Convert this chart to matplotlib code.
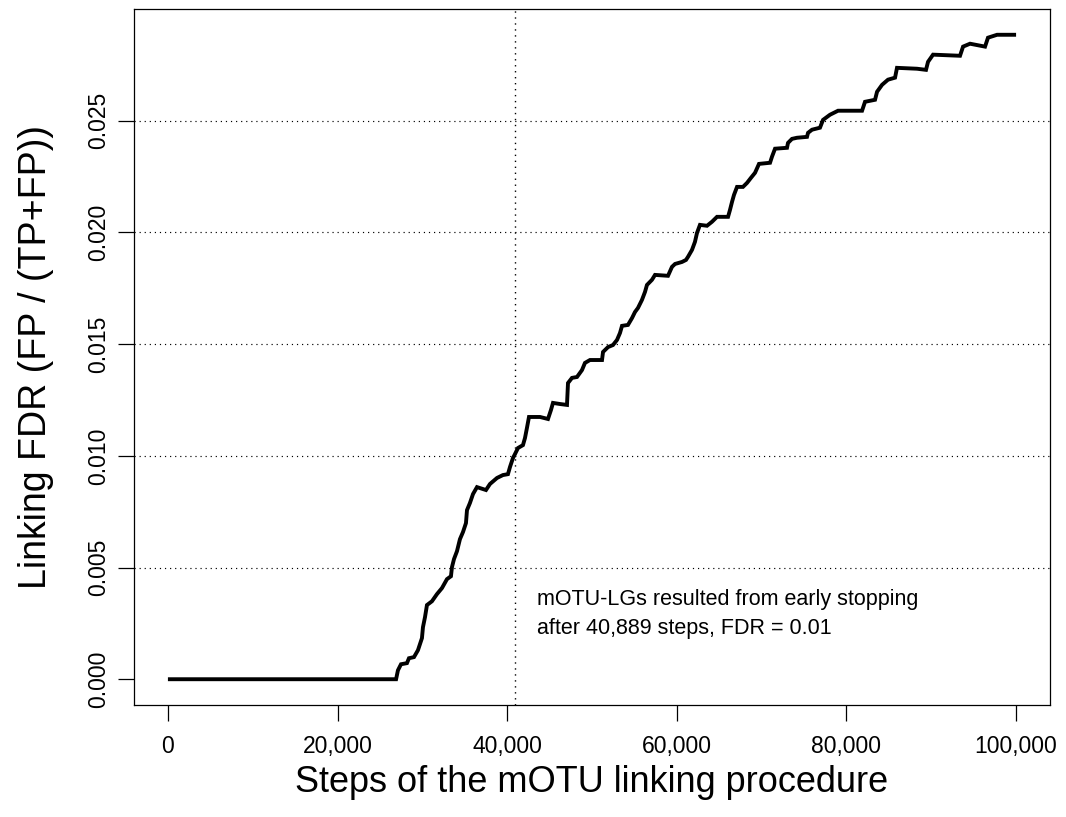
import matplotlib
matplotlib.use("Agg")
import matplotlib.pyplot as plt
from matplotlib.ticker import FuncFormatter

# FDR curve (steps, FDR)
steps = [0, 26900, 27120, 27480, 28180, 28420, 29010, 29480, 29950, 30070,
         30310, 30540, 31130, 31720, 32310, 32900, 33370, 33490, 33730, 34080,
         34430, 34790, 35140, 35260, 35610, 35970, 36440, 37500, 37970, 38800,
         39500, 40090, 40330, 40680, 40920, 41270, 41860, 42100, 42330, 42570,
         43870, 44810, 45160, 45400, 46230, 47050, 47170, 47640, 48230, 48820,
         49170, 49760, 51180, 51300, 51890, 52470, 52950, 53300, 53540, 54240,
         54720, 55070, 55420, 55890, 56250, 56480, 57070, 57430, 58960, 59430,
         59790, 60610, 61080, 61320, 61790, 62140, 62380, 62730, 63560, 64150,
         64740, 66040, 66270, 66510, 66740, 67100, 67800, 68280, 68750, 69220,
         69690, 70990, 71220, 71580, 72990, 73110, 73580, 74170, 75350, 75470,
         75940, 76880, 77240, 78060, 79010, 81840, 82190, 83370, 83610, 84200,
         84900, 85730, 85960, 88320, 89380, 89620, 90210, 93390, 93750, 94570,
         96340, 96690, 97760, 100000]
fdr = [0.0, 0.0, 0.00040, 0.00067, 0.00072, 0.00094, 0.00099, 0.00130, 0.00184, 0.00233,
       0.00278, 0.00332, 0.00349, 0.00381, 0.00408, 0.00448, 0.00461, 0.00502, 0.00538, 0.00573,
       0.00627, 0.00659, 0.00699, 0.00757, 0.00789, 0.00829, 0.00860, 0.00847, 0.00874, 0.00901,
       0.00914, 0.00918, 0.00950, 0.00990, 0.01008, 0.01035, 0.01048, 0.01080, 0.01125, 0.01174,
       0.01174, 0.01165, 0.01205, 0.01237, 0.01232, 0.01228, 0.01326, 0.01349, 0.01353, 0.01384,
       0.01416, 0.01429, 0.01429, 0.01465, 0.01487, 0.01496, 0.01519, 0.01550, 0.01582, 0.01586,
       0.01617, 0.01644, 0.01662, 0.01698, 0.01734, 0.01765, 0.01788, 0.01810, 0.01806, 0.01846,
       0.01859, 0.01868, 0.01877, 0.01891, 0.01922, 0.01958, 0.01998, 0.02034, 0.02030, 0.02048,
       0.02070, 0.02070, 0.02101, 0.02137, 0.02168, 0.02204, 0.02204, 0.02222, 0.02245, 0.02267,
       0.02307, 0.02312, 0.02339, 0.02375, 0.02379, 0.02401, 0.02419, 0.02424, 0.02428, 0.02446,
       0.02460, 0.02469, 0.02504, 0.02527, 0.02545, 0.02545, 0.02585, 0.02594, 0.02630, 0.02661,
       0.02684, 0.02693, 0.02737, 0.02733, 0.02728, 0.02764, 0.02796, 0.02791, 0.02832, 0.02845,
       0.02832, 0.02872, 0.02885, 0.02885]

stop_step = 40889
x_ticks = [0, 20000, 40000, 60000, 80000, 100000]
y_ticks = [0.000, 0.005, 0.010, 0.015, 0.020, 0.025]
grid_levels = [0.005, 0.010, 0.015, 0.020, 0.025]
note = "mOTU-LGs resulted from early stopping\nafter 40,889 steps, FDR = 0.01"

plt.rcParams['font.family'] = ['Liberation Sans', 'DejaVu Sans']

fig = plt.figure(figsize=(10.66, 8.17), dpi=100)
ax = fig.add_axes([134 / 1066, 1 - 705 / 817, 916 / 1066, 696 / 817])

dots = (0, (1, 3.3))
for g in grid_levels:
    ax.axhline(g, color='black', lw=0.85, linestyle=dots, zorder=1)
ax.axvline(stop_step, color='black', lw=1.0, linestyle=dots, zorder=1)

ax.plot(steps, fdr, color='black', lw=2.8, solid_joinstyle='miter',
        solid_capstyle='butt', zorder=3)

ax.text(43500, 0.00293, note, fontsize=15.5, ha='left', va='center',
        linespacing=1.5)

ax.set_xlim(-4000, 104000)
ax.set_ylim(-0.001154, 0.030004)
ax.set_xticks(x_ticks)
ax.set_yticks(y_ticks)
ax.xaxis.set_major_formatter(FuncFormatter(lambda v, p: f"{int(v):,}"))
ax.yaxis.set_major_formatter(FuncFormatter(lambda v, p: f"{v:.3f}"))
ax.tick_params(axis='both', length=11.5, width=0.9, labelsize=16.5)
ax.tick_params(axis='x', pad=10)
ax.tick_params(axis='y', pad=6)
for lab in ax.get_yticklabels():
    lab.set_rotation(90)
    lab.set_va('center')
for s in ax.spines.values():
    s.set_linewidth(0.9)

ax.set_xlabel("Steps of the mOTU linking procedure", fontsize=26, va='center')
ax.set_ylabel("Linking FDR (FP / (TP+FP))", fontsize=27, va='center')
ax.xaxis.set_label_coords(0.5, -(782 - 705) / 696)
ax.yaxis.set_label_coords(-(134 - 36) / 916, 0.5)

fig.savefig("out.png", dpi=100)
